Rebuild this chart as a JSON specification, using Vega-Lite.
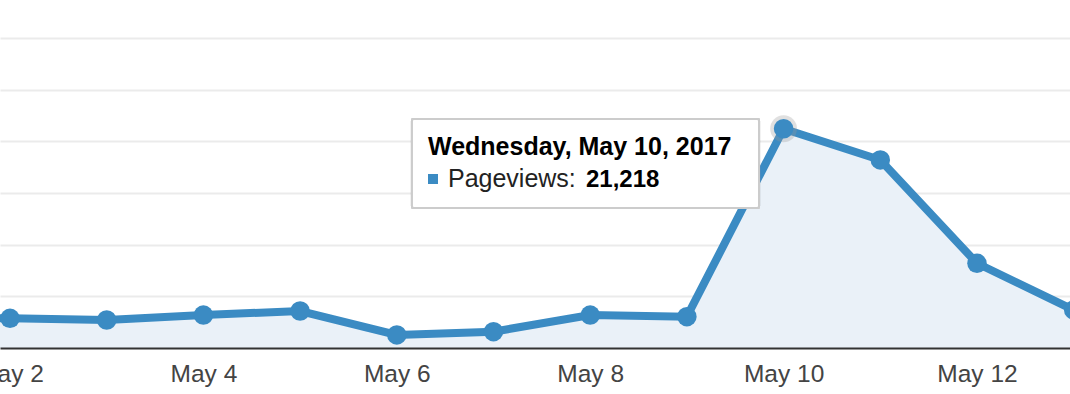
{
  "$schema": "https://vega.github.io/schema/vega-lite/v6.json",
  "width": 1070,
  "height": 348,
  "autosize": "none",
  "padding": {"left": 0, "top": 0, "right": 0, "bottom": 46},
  "background": "#ffffff",
  "config": {"view": {"stroke": null}, "font": "Liberation Sans"},
  "data": {
    "values": [
      {"date": "2017/05/01", "pageviews": 2850},
      {"date": "2017/05/02", "pageviews": 2870},
      {"date": "2017/05/03", "pageviews": 2710},
      {"date": "2017/05/04", "pageviews": 3190},
      {"date": "2017/05/05", "pageviews": 3580},
      {"date": "2017/05/06", "pageviews": 1260},
      {"date": "2017/05/07", "pageviews": 1580},
      {"date": "2017/05/08", "pageviews": 3190},
      {"date": "2017/05/09", "pageviews": 3030},
      {"date": "2017/05/10", "pageviews": 21218},
      {"date": "2017/05/11", "pageviews": 18200},
      {"date": "2017/05/12", "pageviews": 8200},
      {"date": "2017/05/13", "pageviews": 3680}
    ]
  },
  "encoding": {
    "x": {
      "field": "date",
      "type": "temporal",
      "scale": {
        "domain": [
          {"year": 2017, "month": 5, "date": 1, "hours": 21, "minutes": 31},
          {"year": 2017, "month": 5, "date": 12, "hours": 23, "minutes": 5}
        ]
      },
      "axis": {
        "values": [
          {"year": 2017, "month": 5, "date": 2},
          {"year": 2017, "month": 5, "date": 4},
          {"year": 2017, "month": 5, "date": 6},
          {"year": 2017, "month": 5, "date": 8},
          {"year": 2017, "month": 5, "date": 10},
          {"year": 2017, "month": 5, "date": 12}
        ],
        "format": "%b %-d",
        "title": null,
        "grid": false,
        "ticks": false,
        "domainColor": "#333333",
        "domainWidth": 2,
        "labelFontSize": 24.5,
        "labelColor": "#444444",
        "labelPadding": 14,
        "labelFlush": false,
        "labelOverlap": false,
        "zindex": 1
      }
    },
    "y": {
      "field": "pageviews",
      "type": "quantitative",
      "scale": {"domain": [0, 33680], "nice": false, "zero": true},
      "axis": {
        "values": [5000, 10000, 15000, 20000, 25000, 30000],
        "title": null,
        "labels": false,
        "ticks": false,
        "domain": false,
        "grid": true,
        "gridColor": "#ebebeb",
        "gridWidth": 2
      }
    }
  },
  "layer": [
    {"mark": {"type": "area", "color": "#eaf1f8", "clip": true}},
    {"mark": {"type": "line", "color": "#3b8bc3", "strokeWidth": 8, "clip": true}},
    {
      "transform": [{"filter": "month(datum.date) == 4 && date(datum.date) == 10"}],
      "mark": {"type": "circle", "color": "#999999", "opacity": 0.3, "size": 720, "clip": true}
    },
    {"mark": {"type": "circle", "color": "#3b8bc3", "opacity": 1, "size": 380, "clip": true}},
    {
      "mark": {"type": "rect", "fill": "#ffffff", "stroke": "#cccccc", "strokeWidth": 2, "cornerRadius": 2},
      "encoding": {
        "x": {"datum": {"year": 2017, "month": 5, "date": 6, "hours": 3, "minutes": 46}, "type": "temporal"},
        "x2": {"datum": {"year": 2017, "month": 5, "date": 9, "hours": 17, "minutes": 54}},
        "y": {"datum": 22163, "type": "quantitative"},
        "y2": {"datum": 13549}
      }
    },
    {
      "transform": [{"filter": "month(datum.date) == 4 && date(datum.date) == 10"}],
      "mark": {"type": "text", "align": "left", "baseline": "alphabetic", "fontSize": 25, "fontWeight": "bold", "color": "#000000"},
      "encoding": {
        "x": {"datum": {"year": 2017, "month": 5, "date": 6, "hours": 7, "minutes": 45}, "type": "temporal"},
        "y": {"datum": 18679, "type": "quantitative"},
        "text": {"field": "date", "type": "temporal", "format": "%A, %B %-d, %Y"}
      }
    },
    {
      "transform": [{"filter": "month(datum.date) == 4 && date(datum.date) == 10"}],
      "mark": {"type": "point", "shape": "square", "filled": true, "opacity": 1, "size": 100, "color": "#3b8bc3"},
      "encoding": {
        "x": {"datum": {"year": 2017, "month": 5, "date": 6, "hours": 8, "minutes": 59}, "type": "temporal"},
        "y": {"datum": 16356, "type": "quantitative"}
      }
    },
    {
      "transform": [{"filter": "month(datum.date) == 4 && date(datum.date) == 10"}],
      "mark": {"type": "text", "align": "left", "baseline": "alphabetic", "fontSize": 25, "color": "#222222", "text": "Pageviews:"},
      "encoding": {
        "x": {"datum": {"year": 2017, "month": 5, "date": 6, "hours": 12, "minutes": 42}, "type": "temporal"},
        "y": {"datum": 15582, "type": "quantitative"}
      }
    },
    {
      "transform": [{"filter": "month(datum.date) == 4 && date(datum.date) == 10"}],
      "mark": {"type": "text", "align": "left", "baseline": "alphabetic", "fontSize": 24, "fontWeight": "bold", "color": "#000000"},
      "encoding": {
        "x": {"datum": {"year": 2017, "month": 5, "date": 7, "hours": 22, "minutes": 57}, "type": "temporal"},
        "y": {"datum": 15582, "type": "quantitative"},
        "text": {"field": "pageviews", "type": "quantitative", "format": ","}
      }
    }
  ]
}
